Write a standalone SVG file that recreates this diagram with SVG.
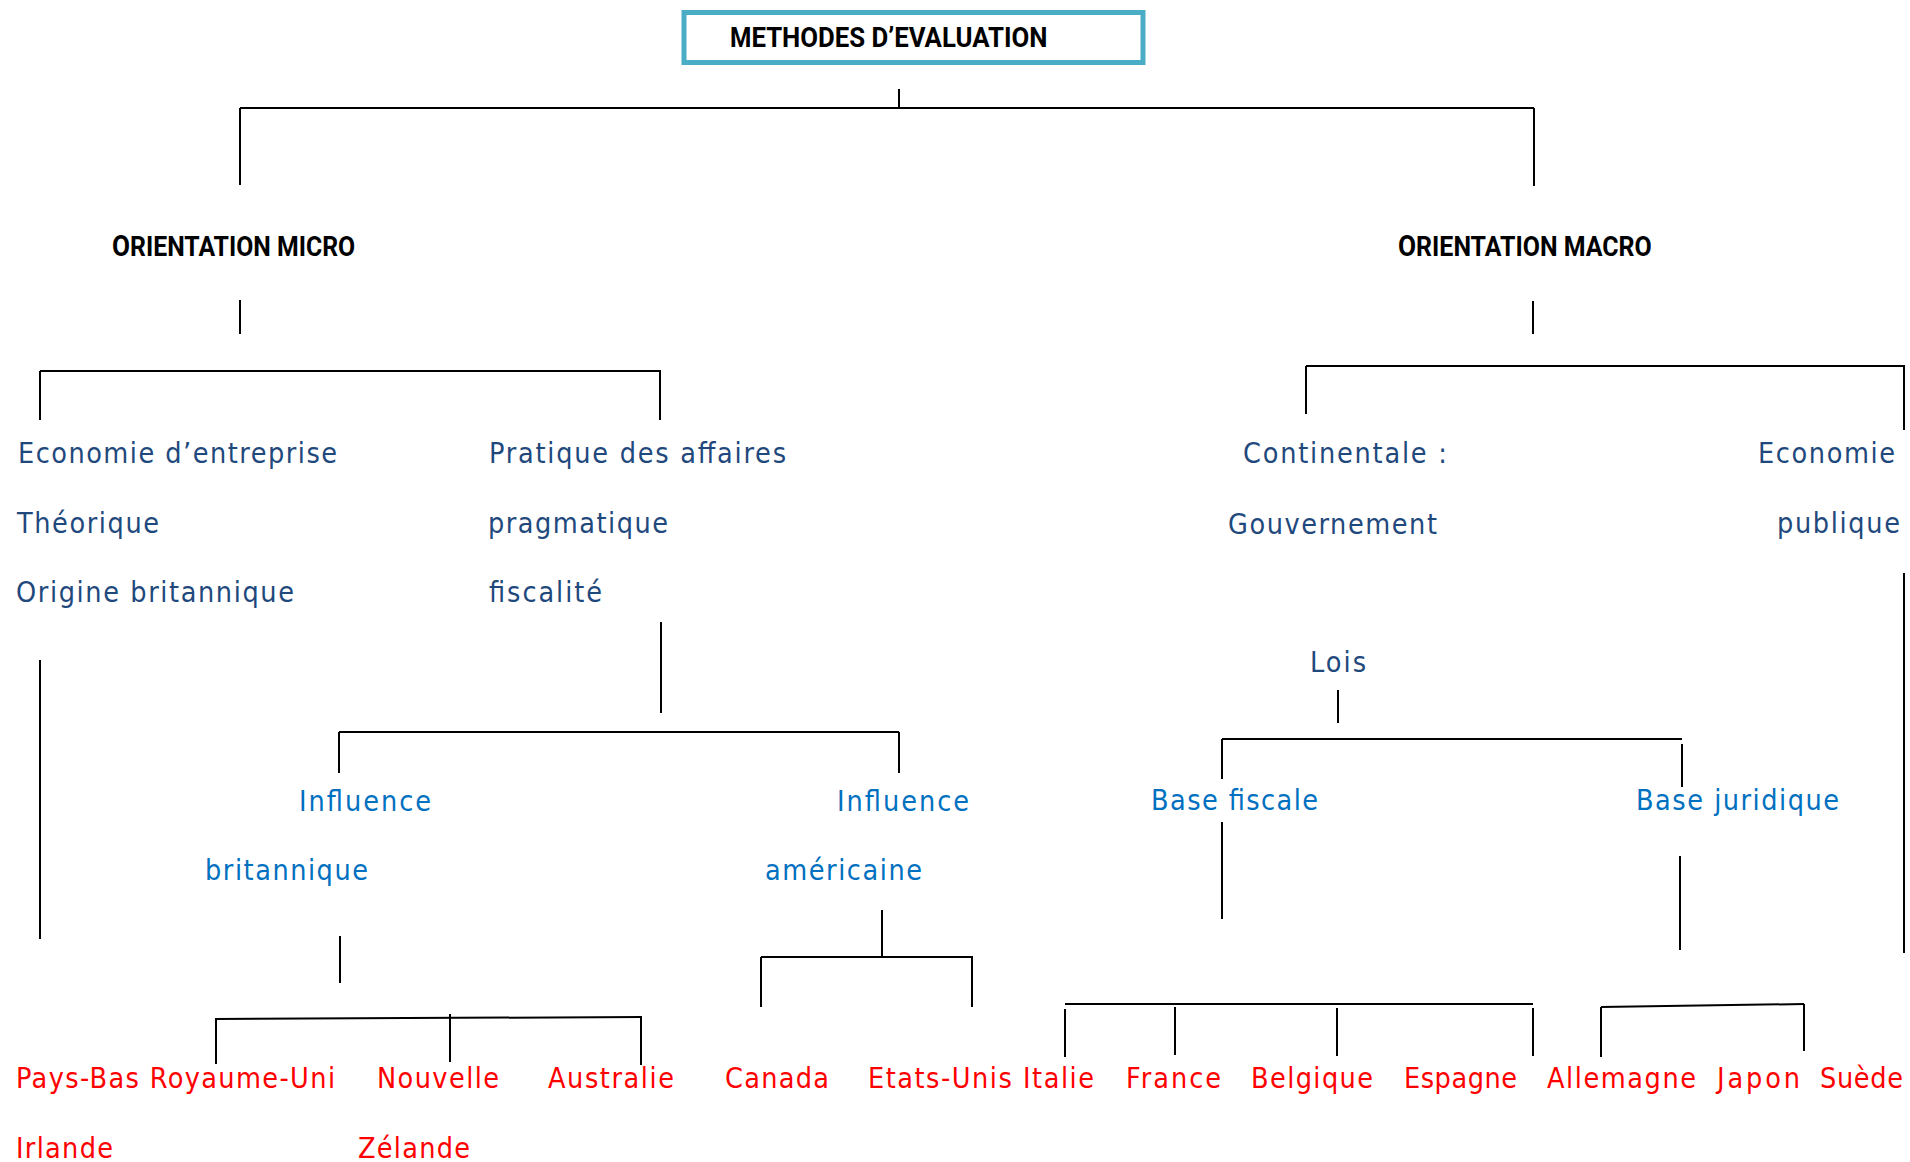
<svg xmlns="http://www.w3.org/2000/svg" width="1910" height="1162" viewBox="0 0 1910 1162">
<style>
text{font-family:"DejaVu Sans","Liberation Sans",sans-serif;font-stretch:condensed;font-size:28.5px}
.t{fill:#1F497D}
.l{fill:#0070C0}
.r{fill:#FF0000}
.h{font-family:Roboto,"Liberation Sans",sans-serif;font-stretch:normal;font-weight:bold;fill:#000}
#connectors line{stroke:#000;stroke-width:2;fill:none}
</style>
<rect width="1910" height="1162" fill="#fff"/>
<g id="connectors">
<line x1="899" y1="89" x2="899" y2="108"/>
<line x1="240" y1="108" x2="1534" y2="108"/>
<line x1="240" y1="108" x2="240" y2="185"/>
<line x1="1534" y1="108" x2="1534" y2="186"/>
<line x1="240" y1="300" x2="240" y2="334"/>
<line x1="40" y1="371" x2="661" y2="371"/>
<line x1="40" y1="371" x2="40" y2="420"/>
<line x1="660" y1="371" x2="660" y2="420"/>
<line x1="1533" y1="301" x2="1533" y2="334"/>
<line x1="1306" y1="366" x2="1905" y2="366"/>
<line x1="1306" y1="366" x2="1306" y2="414"/>
<line x1="1904" y1="366" x2="1904" y2="430"/>
<line x1="40" y1="660" x2="40" y2="939"/>
<line x1="661" y1="622" x2="661" y2="713"/>
<line x1="339" y1="732" x2="899" y2="732"/>
<line x1="339" y1="732" x2="339" y2="773"/>
<line x1="899" y1="732" x2="899" y2="773"/>
<line x1="340" y1="936" x2="340" y2="983"/>
<line x1="215" y1="1019" x2="642" y2="1017"/>
<line x1="216" y1="1018" x2="216" y2="1064"/>
<line x1="450" y1="1014" x2="450" y2="1062"/>
<line x1="641" y1="1017" x2="641" y2="1065"/>
<line x1="882" y1="910" x2="882" y2="957"/>
<line x1="761" y1="957" x2="973" y2="957"/>
<line x1="761" y1="957" x2="761" y2="1007"/>
<line x1="972" y1="957" x2="972" y2="1007"/>
<line x1="1904" y1="573" x2="1904" y2="953"/>
<line x1="1338" y1="690" x2="1338" y2="723"/>
<line x1="1222" y1="739" x2="1682" y2="739"/>
<line x1="1222" y1="739" x2="1222" y2="779"/>
<line x1="1682" y1="744" x2="1682" y2="787"/>
<line x1="1222" y1="822" x2="1222" y2="919"/>
<line x1="1680" y1="856" x2="1680" y2="950"/>
<line x1="1065" y1="1004" x2="1533" y2="1004"/>
<line x1="1065" y1="1009" x2="1065" y2="1057"/>
<line x1="1175" y1="1007" x2="1175" y2="1055"/>
<line x1="1337" y1="1008" x2="1337" y2="1056"/>
<line x1="1533" y1="1008" x2="1533" y2="1056"/>
<line x1="1601" y1="1007" x2="1804" y2="1004"/>
<line x1="1601" y1="1007" x2="1601" y2="1057"/>
<line x1="1804" y1="1004" x2="1804" y2="1051"/>
</g>
<g id="title">
<rect x="684" y="12.5" width="459" height="50" fill="none" stroke="#4BACC6" stroke-width="5"/>
<text class="h" transform="translate(730,46.7) scale(0.905,1)" font-size="20"><tspan font-size="27">M</tspan>ETHODES D’EVALUATION</text>
</g>
<g id="orientation-micro"><text class="h" transform="translate(112,255.7) scale(0.871,1)" font-size="23"><tspan font-size="30">O</tspan>RIENTATION MICRO</text></g>
<g id="orientation-macro"><text class="h" transform="translate(1398,256) scale(0.875,1)" font-size="23"><tspan font-size="30">O</tspan>RIENTATION MACRO</text></g>
<g id="economie-entreprise">
<text class="t" x="18" y="463" textLength="319">Economie d’entreprise</text>
<text class="t" x="17" y="533" textLength="142">Théorique</text>
<text class="t" x="16" y="602" textLength="278">Origine britannique</text>
</g>
<g id="pratique-affaires">
<text class="t" x="489" y="463" textLength="297">Pratique des affaires</text>
<text class="t" x="488" y="533" textLength="180">pragmatique</text>
<text class="t" x="489" y="602" textLength="113">fiscalité</text>
</g>
<g id="continentale">
<text class="t" x="1243" y="463" textLength="204">Continentale :</text>
<text class="t" x="1228" y="534" textLength="209">Gouvernement</text>
</g>
<g id="economie-publique">
<text class="t" x="1758" y="463" textLength="137">Economie</text>
<text class="t" x="1777" y="533" textLength="123">publique</text>
</g>
<g id="lois"><text class="t" x="1310" y="672" textLength="56">Lois</text></g>
<g id="influence-britannique">
<text class="l" x="299" y="811" textLength="132">Influence</text>
<text class="l" x="205" y="880" textLength="163">britannique</text>
</g>
<g id="influence-americaine">
<text class="l" x="837" y="811" textLength="132">Influence</text>
<text class="l" x="765" y="880" textLength="157">américaine</text>
</g>
<g id="base-fiscale"><text class="l" x="1151" y="810" textLength="167">Base fiscale</text></g>
<g id="base-juridique"><text class="l" x="1636" y="810" textLength="203">Base juridique</text></g>
<g id="pays-bas-royaume-uni">
<text class="r" x="16" y="1088" textLength="319">Pays-Bas Royaume-Uni</text>
<text class="r" x="16" y="1158" textLength="97">Irlande</text>
</g>
<g id="nouvelle-zelande">
<text class="r" x="377" y="1088" textLength="122">Nouvelle</text>
<text class="r" x="358" y="1158" textLength="112">Zélande</text>
</g>
<g id="australie"><text class="r" x="548" y="1088" textLength="126">Australie</text></g>
<g id="canada"><text class="r" x="725" y="1088" textLength="104">Canada</text></g>
<g id="etats-unis-italie"><text class="r" x="868" y="1088" textLength="226">Etats-Unis Italie</text></g>
<g id="france"><text class="r" x="1126" y="1088" textLength="95">France</text></g>
<g id="belgique"><text class="r" x="1251" y="1088" textLength="122">Belgique</text></g>
<g id="espagne"><text class="r" x="1404" y="1088" textLength="113">Espagne</text></g>
<g id="allemagne"><text class="r" x="1547" y="1088" textLength="149">Allemagne</text></g>
<g id="japon"><text class="r" x="1717" y="1088" textLength="83">Japon</text></g>
<g id="suede"><text class="r" x="1820" y="1088" textLength="83">Suède</text></g>
</svg>
